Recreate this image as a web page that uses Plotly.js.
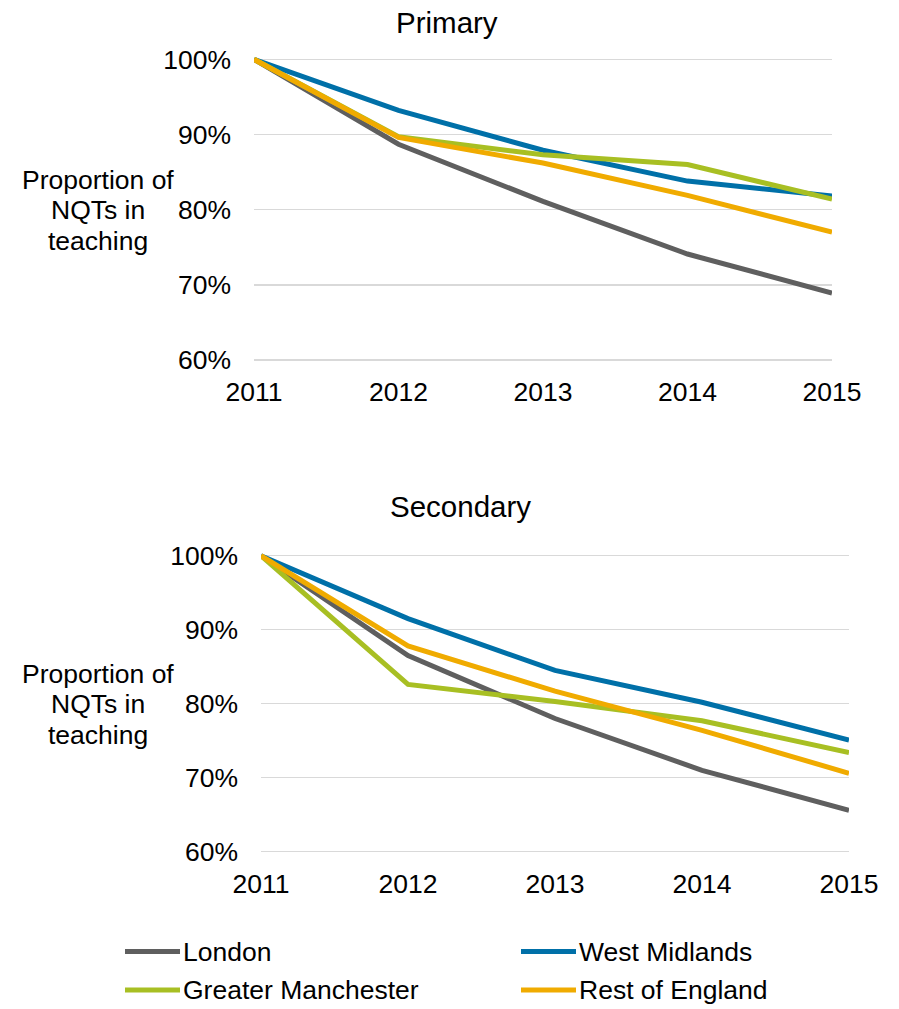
<!DOCTYPE html>
<html>
<head>
<meta charset="utf-8">
<script src="https://cdn.plot.ly/plotly-3.0.1.min.js"></script>
<style>html,body{margin:0;padding:0;background:#fff;}#chart{width:899px;height:1009px;}</style>
</head>
<body>
<div id="chart"></div>
<script>
// ---- data ----
const years = [2011, 2012, 2013, 2014, 2015];
const seriesNames = ["London", "West Midlands", "Greater Manchester", "Rest of England"];
const seriesColors = ["#5f5f5f", "#0070a8", "#a8bf23", "#f0ab00"];

const londonPrimary = [100, 88.7, 81.1, 74.1, 68.9];
const westMidlandsPrimary = [100, 93.2, 87.9, 83.8, 81.8];
const greaterManchesterPrimary = [100, 89.7, 87.3, 86.0, 81.4];
const restOfEnglandPrimary = [100, 89.6, 86.2, 81.9, 77.0];

const londonSecondary = [100, 86.5, 78.0, 71.0, 65.6];
const westMidlandsSecondary = [100, 91.5, 84.5, 80.2, 75.1];
const greaterManchesterSecondary = [100, 82.6, 80.3, 77.7, 73.4];
const restOfEnglandSecondary = [100, 87.8, 81.7, 76.4, 70.6];

const yTickVals = [60, 70, 80, 90, 100];
const yTickText = ["60%", "70%", "80%", "90%", "100%"];
const xTickVals = [2011, 2012, 2013, 2014, 2015];
const xTickText = ["2011", "2012", "2013", "2014", "2015"];

const panelTitles = ["Primary", "Secondary"];
const yAxisTitleLines = ["Proportion of", "NQTs in", "teaching"];

// ---- build ----
const W = 899, H = 1009;
const FONT = "Liberation Sans, Arial, sans-serif";
const FS = 26.5;
const primarySets = [londonPrimary, westMidlandsPrimary, greaterManchesterPrimary, restOfEnglandPrimary];
const secondarySets = [londonSecondary, westMidlandsSecondary, greaterManchesterSecondary, restOfEnglandSecondary];

const traces = [];
primarySets.forEach((vals, i) => traces.push({
  x: years, y: vals, type: "scatter", mode: "lines", name: seriesNames[i],
  xaxis: "x", yaxis: "y", showlegend: false,
  line: {color: seriesColors[i], width: 5}
}));
secondarySets.forEach((vals, i) => traces.push({
  x: years, y: vals, type: "scatter", mode: "lines", name: seriesNames[i],
  xaxis: "x2", yaxis: "y2", showlegend: false,
  line: {color: seriesColors[i], width: 5}
}));

function xAxis(domain, anchor) {
  return {
    domain: domain, anchor: anchor, range: [2011, 2015],
    tickvals: xTickVals, ticktext: xTickText,
    showgrid: false, zeroline: false, showline: false, ticks: "",
    ticklabelstandoff: 10,
    tickfont: {family: FONT, size: FS, color: "#000"}
  };
}
function yAxis(domain, anchor) {
  return {
    domain: domain, anchor: anchor, range: [59.5, 100.7],
    tickvals: yTickVals, ticktext: yTickText,
    showgrid: true, gridcolor: "#d9d9d9", gridwidth: 1.5,
    zeroline: false, showline: false, ticks: "",
    ticklabelstandoff: 22,
    tickfont: {family: FONT, size: FS, color: "#000"}
  };
}

const baseAnn = {
  xref: "paper", yref: "paper", xanchor: "center", yanchor: "middle",
  showarrow: false, align: "center",
  font: {family: FONT, size: FS, color: "#000"}
};
const annotations = [
  {text: panelTitles[0], x: 446.7 / W, y: 1 - 22.5 / H, font: {family: FONT, size: 29.5, color: "#000"}},
  {text: panelTitles[1], x: 461 / W, y: 1 - 506 / H, font: {family: FONT, size: 29.5, color: "#000"}}
].map(a => Object.assign({}, baseAnn, a));

const titleCenters = [210, 704];
titleCenters.forEach(cy => {
  yAxisTitleLines.forEach((line, k) => {
    annotations.push(Object.assign({}, baseAnn, {
      text: line, x: 98 / W, y: 1 - (cy + (k - 1) * 30.5) / H
    }));
  });
});

// legend (manual, 2 columns)
const legendPos = [
  {x0: 125, x1: 180, y: 951.5},
  {x0: 521, x1: 576, y: 951.5},
  {x0: 125, x1: 180, y: 990},
  {x0: 521, x1: 576, y: 990}
];
const shapes = [];
seriesNames.forEach((name, i) => {
  const p = legendPos[i];
  shapes.push({type: "line", xref: "paper", yref: "paper",
    x0: p.x0 / W, x1: p.x1 / W, y0: 1 - p.y / H, y1: 1 - p.y / H,
    line: {color: seriesColors[i], width: 5}});
  annotations.push(Object.assign({}, baseAnn, {text: name,
    x: (p.x1 + 2) / W, y: 1 - p.y / H, xanchor: "left", borderpad: 0}));
});

const layout = {
  width: W, height: H,
  margin: {l: 0, r: 0, t: 0, b: 0},
  paper_bgcolor: "#fff", plot_bgcolor: "#fff",
  showlegend: false,
  font: {family: FONT, size: FS, color: "#000"},
  xaxis: xAxis([254 / W, 832 / W], "y"),
  yaxis: yAxis([1 - 363.76 / H, 1 - 54.04 / H], "x"),
  xaxis2: xAxis([261 / W, 849 / W], "y2"),
  yaxis2: yAxis([1 - 855.4 / H, 1 - 550.52 / H], "x2"),
  annotations: annotations,
  shapes: shapes
};

Plotly.newPlot("chart", traces, layout, {staticPlot: true, displayModeBar: false});
</script>
</body>
</html>
